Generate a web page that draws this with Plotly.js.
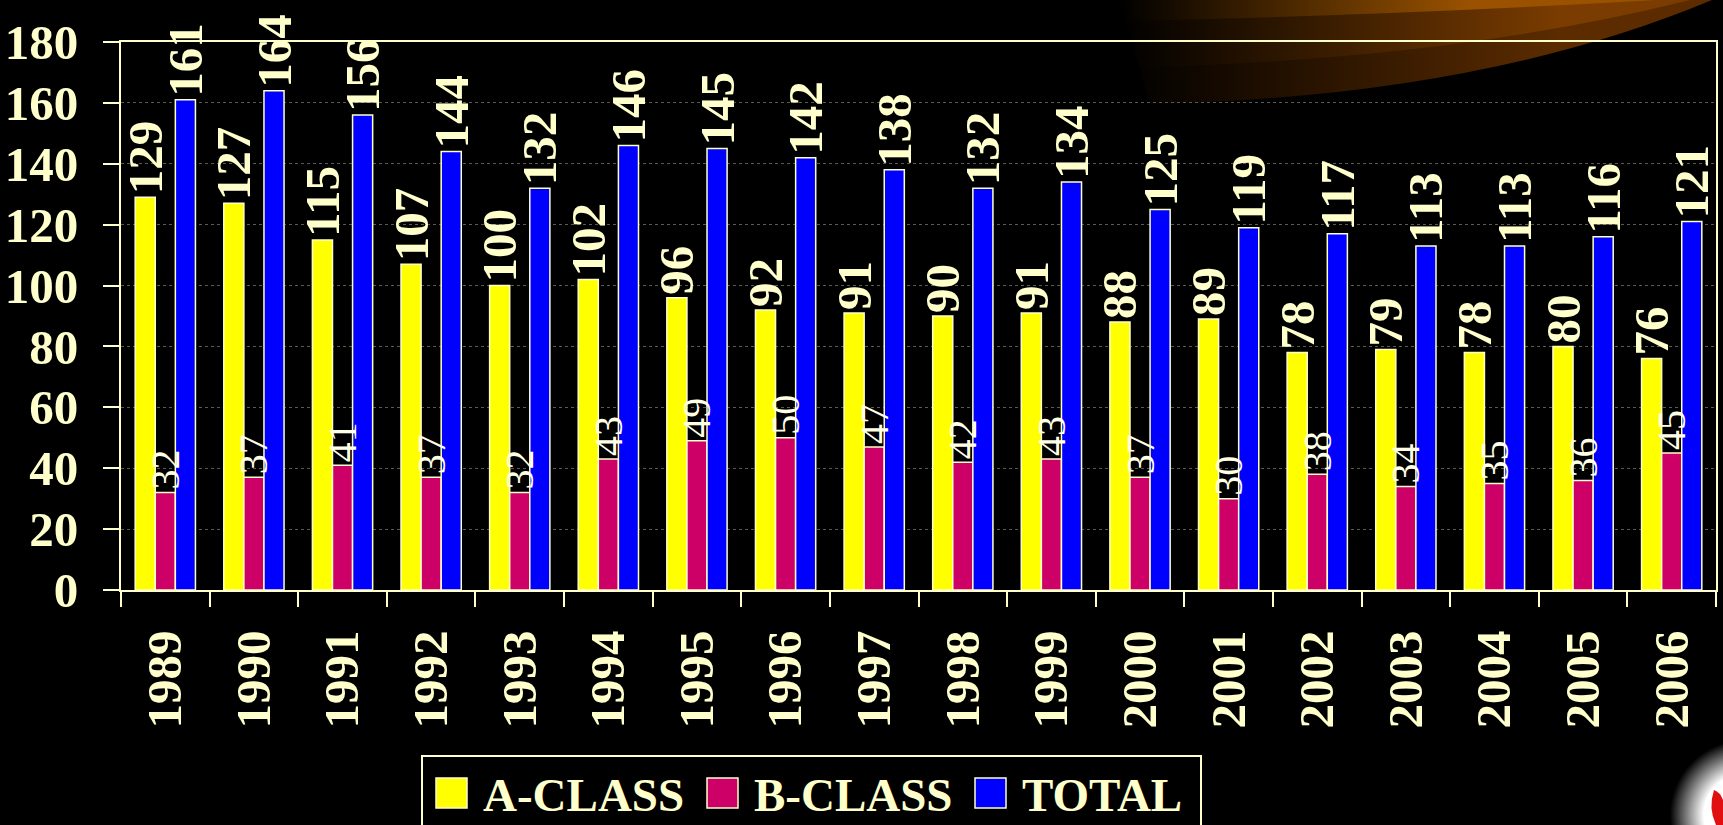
<!DOCTYPE html>
<html>
<head>
<meta charset="utf-8">
<script src="https://cdn.plot.ly/plotly-3.0.1.min.js"></script>
<style>
  html, body { margin: 0; padding: 0; background: #000; }
  #chart { width: 1723px; height: 825px; }
</style>
</head>
<body>
<div id="chart"></div>
<script>
// ---- Data ----
var years = ['1989','1990','1991','1992','1993','1994','1995','1996','1997','1998','1999','2000','2001','2002','2003','2004','2005','2006'];
var aClass = [129,127,115,107,100,102,96,92,91,90,91,88,89,78,79,78,80,76];
var bClass = [32,37,41,37,32,43,49,50,47,42,43,37,30,38,34,35,36,45];
var total  = [161,164,156,144,132,146,145,142,138,132,134,125,119,117,113,113,116,121];
var seriesNames = ['A-CLASS','B-CLASS','TOTAL'];
var yTickVals = [0,20,40,60,80,100,120,140,160,180];

// ---- Style ----
var cream = '#FFFFCC';
var colors = ['#FFFF00','#CC0066','#0000FF'];
var serif = 'Liberation Serif, Times New Roman, serif';
var W = 1723, H = 825;
var M = {l:121, r:7, t:42, b:235};
var PW = W - M.l - M.r, PH = H - M.t - M.b;
function px(x){ return (x - M.l) / PW; }
function py(y){ return (H - M.b - y) / PH; }

var bigFont = {family: serif, size: 49, color: cream, weight: 'bold'};
var smallFont = {family: serif, size: 40, color: '#FFFFE6'};

function barTrace(name, vals, color, font, group){
  return {
    type: 'bar', name: name, x: years, y: vals, offsetgroup: group,
    marker: {color: color, line: {color: cream, width: 1.5}},
    text: vals.map(String), textposition: 'outside', textangle: -90,
    textfont: font, constraintext: 'none', cliponaxis: false,
    showlegend: false, hoverinfo: 'x+y'
  };
}

var bText = barTrace(seriesNames[1], bClass, 'rgba(0,0,0,0)', smallFont, 'b');
bText.marker.line.width = 0;

var traces = [
  barTrace(seriesNames[0], aClass, colors[0], bigFont, 'a'),
  (function(){ var t = barTrace(seriesNames[1], bClass, colors[1], smallFont, 'b'); t.text = null; return t; })(),
  barTrace(seriesNames[2], total, colors[2], bigFont, 't'),
  bText
];

// background decoration (swoosh + logo glow)
var svg = '<svg xmlns="http://www.w3.org/2000/svg" width="1723" height="825" viewBox="0 0 1723 825">' +
 '<defs>' +
 '<linearGradient id="g1" gradientUnits="userSpaceOnUse" x1="1120" y1="0" x2="1560" y2="0"><stop offset="0" stop-color="#000"/><stop offset="1" stop-color="#5c2c00"/></linearGradient>' +
 '<linearGradient id="g2" gradientUnits="userSpaceOnUse" x1="1120" y1="0" x2="1560" y2="0"><stop offset="0" stop-color="#000"/><stop offset="1" stop-color="#7a3c00"/></linearGradient>' +
 '<linearGradient id="g3" gradientUnits="userSpaceOnUse" x1="1120" y1="0" x2="1470" y2="0"><stop offset="0" stop-color="#000"/><stop offset="1" stop-color="#9a5200"/></linearGradient>' +
 '<radialGradient id="rg" cx="1745" cy="815" r="75" gradientUnits="userSpaceOnUse"><stop offset="0.55" stop-color="#fff"/><stop offset="1" stop-color="#000"/></radialGradient>' +
 '</defs>' +
 '<path d="M1150 104 Q1480 97 1712 0 L1120 0 Z" fill="url(#g1)"/>' +
 '<path d="M1140 67 Q1450 60 1690 0 L1120 0 Z" fill="url(#g2)"/>' +
 '<path d="M1128 21 Q1400 15 1656 0 L1120 0 Z" fill="url(#g3)"/>' +
 '<circle cx="1745" cy="815" r="75" fill="url(#rg)"/>' +
 '<path d="M1714 790 Q1708 808 1716 825 L1723 825 L1723 800 Q1720 792 1714 790 Z" fill="#e01010"/>' +
 '</svg>';

var shapes = [
  {type:'rect', xref:'paper', yref:'paper', x0:px(422), x1:px(1201), y0:py(756), y1:py(860),
   line:{color:cream, width:2}, fillcolor:'rgba(0,0,0,0)', layer:'above'}
];
var annotations = [];
var boxX = [436, 707, 975];
for (var i = 0; i < seriesNames.length; i++){
  shapes.push({type:'rect', xref:'paper', yref:'paper', x0:px(boxX[i]), x1:px(boxX[i]+31), y0:py(778), y1:py(808),
    line:{color:cream, width:1.5}, fillcolor:colors[i], layer:'above'});
  annotations.push({xref:'paper', yref:'paper', x:px(boxX[i]+45), y:py(795), xanchor:'left', yanchor:'middle',
    text: seriesNames[i], showarrow:false, font:{family: serif, size: 47, color: cream, weight:'bold'}});
}

var layout = {
  width: W, height: H,
  margin: M,
  paper_bgcolor: '#000', plot_bgcolor: 'rgba(0,0,0,0)',
  barmode: 'group', bargap: 0.32, bargroupgap: 0,
  showlegend: false,
  xaxis: {
    type: 'category', tickson: 'boundaries', ticks: 'outside', ticklen: 15, tickwidth: 2, tickcolor: cream,
    tickangle: -90, tickfont: bigFont, ticklabelstandoff: 19,
    showline: true, linecolor: cream, linewidth: 2, mirror: true, showgrid: false
  },
  yaxis: {
    range: [0, 180], tickvals: yTickVals, ticks: 'outside', ticklen: 16, tickwidth: 2, tickcolor: cream,
    tickfont: bigFont, ticklabelstandoff: 15,
    showline: true, linecolor: cream, linewidth: 2, mirror: true,
    showgrid: true, gridcolor: '#5a5a50', griddash: 'dot', gridwidth: 1, zeroline: false
  },
  shapes: shapes,
  annotations: annotations,
  images: [{
    source: 'data:image/svg+xml;charset=utf-8,' + encodeURIComponent(svg),
    xref: 'paper', yref: 'paper', x: -M.l/PW, y: 1 + M.t/PH, sizex: W/PW, sizey: H/PH,
    xanchor: 'left', yanchor: 'top', sizing: 'stretch', layer: 'below'
  }]
};

Plotly.newPlot('chart', traces, layout, {displayModeBar: false, staticPlot: true});
</script>
</body>
</html>
